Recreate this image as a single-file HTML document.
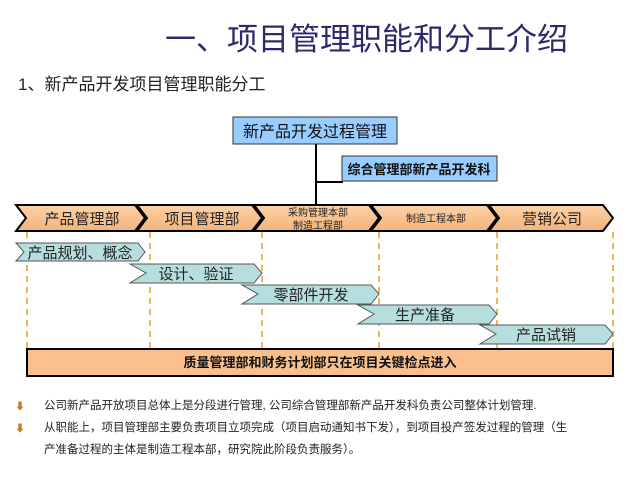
<!DOCTYPE html>
<html><head><meta charset="utf-8"><style>
body{margin:0;background:#fff;width:640px;height:480px;overflow:hidden}
svg text{font-family:"Liberation Sans","Noto Sans CJK SC",sans-serif}
</style></head><body>
<svg width="640" height="480" xmlns="http://www.w3.org/2000/svg">
<defs>
<linearGradient id="og" x1="0" y1="0" x2="0" y2="1"><stop offset="0" stop-color="#fbd3a8"/><stop offset="1" stop-color="#f5b27a"/></linearGradient>
</defs>
<text x="165" y="50" font-size="31" fill="#2b2b6b">一、项目管理职能和分工介绍</text>
<text x="18" y="90" font-size="17" fill="#222">1、新产品开发项目管理职能分工</text>

<rect x="233" y="117" width="164" height="27" fill="#99ccff" stroke="#333" stroke-width="1"/>
<text x="315" y="137" font-size="16" text-anchor="middle" fill="#111">新产品开发过程管理</text>
<line x1="316" y1="144" x2="316" y2="224" stroke="#000" stroke-width="2"/>
<line x1="316" y1="182" x2="343" y2="182" stroke="#000" stroke-width="2"/>
<rect x="342" y="156" width="155" height="25" fill="#99ccff" stroke="#333"/>
<text x="419" y="174" font-size="13" font-weight="bold" text-anchor="middle" fill="#111">综合管理部新产品开发科</text>
<path d="M75 222V210H545V222M192 210V222M428 210V222" fill="none" stroke="#000" stroke-width="2"/>

<g stroke="#000" stroke-width="2" fill="url(#og)">
<path d="M16 205H135L145 218L135 231H16L26 218Z"/>
<path d="M137 205H252L262 218L252 231H137L147 218Z"/>
<path d="M254 205H369L379 218L369 231H254L264 218Z"/>
<path d="M371 205H487L497 218L487 231H371L381 218Z"/>
<path d="M489 205H603L613 218L603 231H489L499 218Z"/>
</g>
<g font-size="15" fill="#222" text-anchor="middle">
<text x="82" y="224">产品管理部</text>
<text x="202" y="224">项目管理部</text>
<text x="318" y="216" font-size="10">采购管理本部</text>
<text x="318" y="229" font-size="10">制造工程部</text>
<text x="436" y="222" font-size="10">制造工程本部</text>
<text x="552" y="224">营销公司</text>
</g>
<g stroke="#e8a020" stroke-width="1.5" stroke-dasharray="6,5">
<line x1="27" y1="232" x2="27" y2="349"/><line x1="150" y1="232" x2="150" y2="349"/>
<line x1="262" y1="232" x2="262" y2="349"/><line x1="379" y1="232" x2="379" y2="349"/>
<line x1="497" y1="232" x2="497" y2="349"/><line x1="613" y1="232" x2="613" y2="349"/>
</g>
<g fill="#b7dede" stroke="#555" stroke-width="1">
<path d="M16 243H138L145 252L138 261H16L24 252Z"/>
<path d="M130 264H254L262 273L254 283H130L146 273Z"/>
<path d="M242 285H371L379 294L371 304H242L258 294Z"/>
<path d="M358 305H489L497 314L489 324H358L374 314Z"/>
<path d="M480 325H605L613 334L605 344H480L496 334Z"/>
</g>
<g font-size="15" fill="#222" text-anchor="middle">
<text x="80" y="258">产品规划、概念</text>
<text x="196" y="279">设计、验证</text>
<text x="311" y="300">零部件开发</text>
<text x="425" y="320">生产准备</text>
<text x="546" y="340">产品试销</text>
</g>
<rect x="27" y="349" width="586" height="27" fill="#f9c08d" stroke="#000" stroke-width="2"/>
<text x="320" y="367" font-size="13" font-weight="bold" text-anchor="middle" fill="#111">质量管理部和财务计划部只在项目关键检点进入</text>
<g font-size="11.5" fill="#222">
<text x="15" y="410" fill="#c08020" font-size="10">⬇</text>
<text x="44" y="409">公司新产品开放项目总体上是分段进行管理, 公司综合管理部新产品开发科负责公司整体计划管理.</text>
<text x="15" y="432" fill="#c08020" font-size="10">⬇</text>
<text x="44" y="431">从职能上，项目管理部主要负责项目立项完成（项目启动通知书下发），到项目投产签发过程的管理（生</text>
<text x="44" y="453">产准备过程的主体是制造工程本部，研究院此阶段负责服务）。</text>
</g>
</svg>
</body></html>
